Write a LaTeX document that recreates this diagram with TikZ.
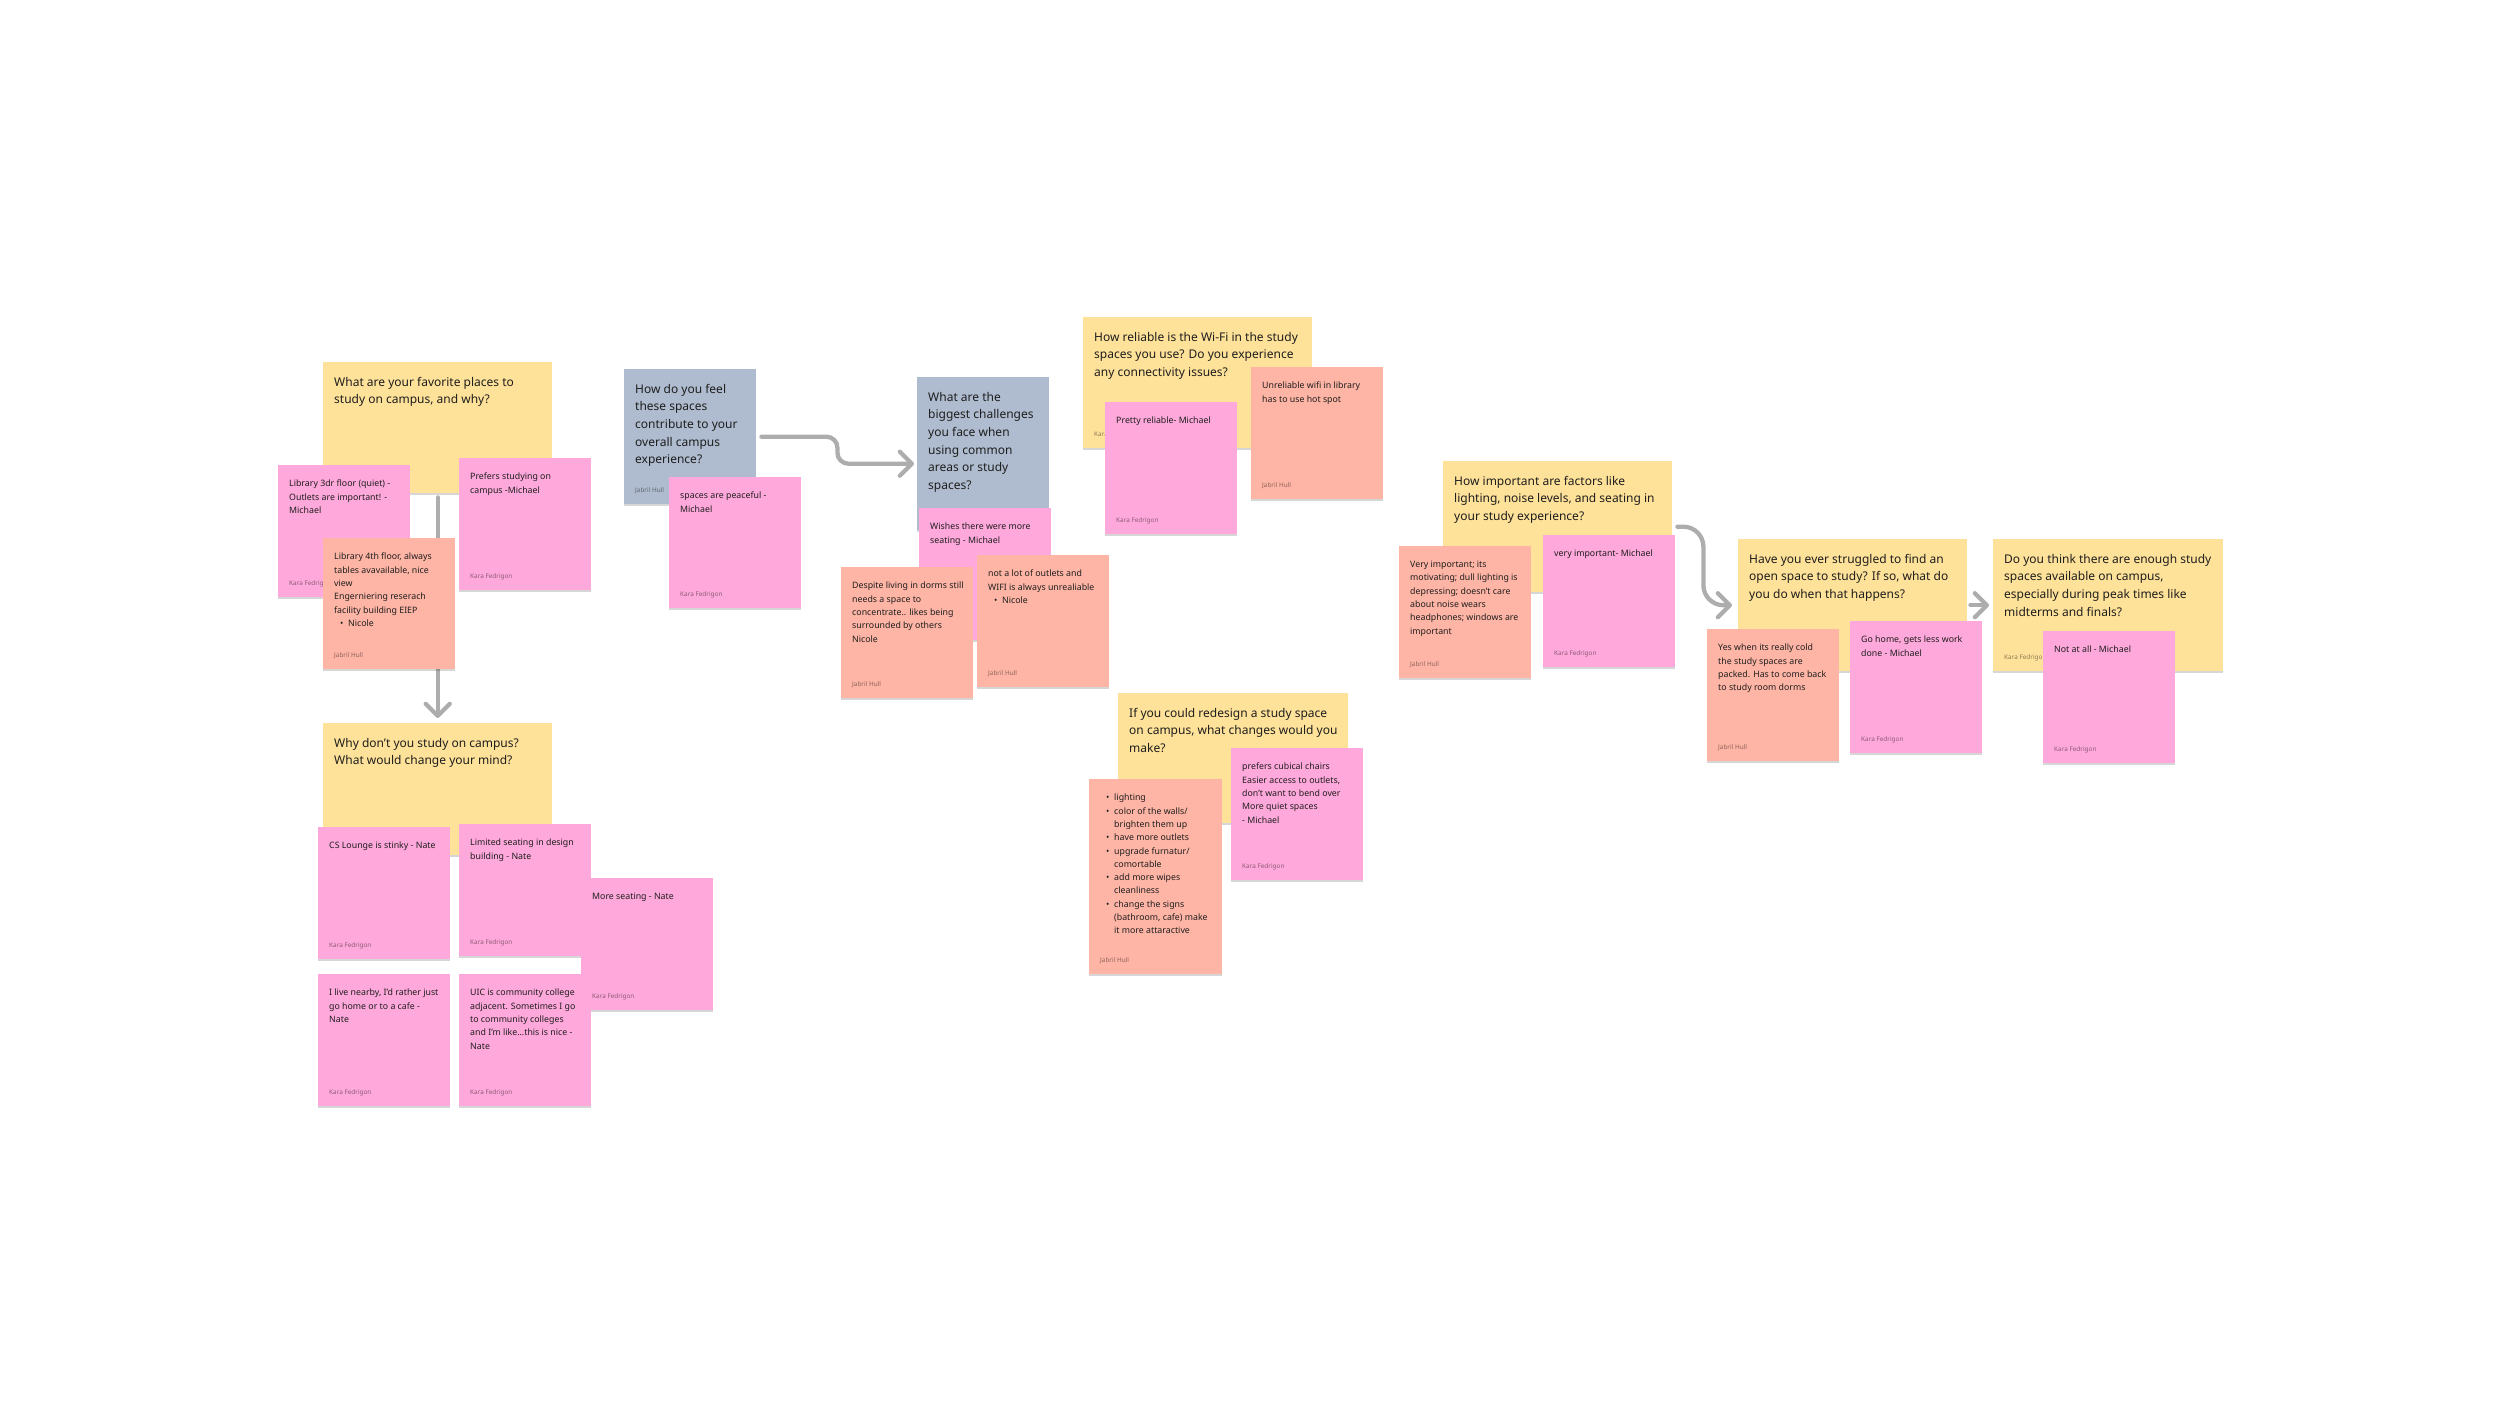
\documentclass[tikz,border=0pt]{standalone}
\usepackage{fontspec}
\setmainfont{Noto Sans}
\usepackage{tikz}
\usetikzlibrary{arrows.meta, shadows, backgrounds}
\definecolor{stickyYellow}{HTML}{FFE299}
\definecolor{stickyPink}{HTML}{FFA8DB}
\definecolor{stickySalmon}{HTML}{FFB5A5}
\definecolor{stickySlate}{HTML}{AFBCCF}
\definecolor{inkGray}{HTML}{1E1E1E}
\definecolor{linkGray}{HTML}{ADADAD}

\newcommand{\itm}{\hspace*{6pt}\makebox[8pt][l]{\textbullet}}
\newcommand{\cnt}{\hspace*{14pt}}
% one sticky: [text style] name, box style, top-left corner, text, author
\newcommand{\sticky}[6][atext]{%
  \node[#3] (#2) at (#4) {};
  \node[#1] at ([shift={(11,15)}]#2.north west) {#5};
  \node[who] at ([shift={(11,-12)}]#2.south west) {#6};
}

\begin{document}
\begin{tikzpicture}[x=1pt, y=-1pt,
  note/.style={rectangle, anchor=north west, inner sep=0pt,
               minimum width=132pt, minimum height=132pt,
               drop shadow={shadow xshift=0pt, shadow yshift=-2pt,
                            fill=black, opacity=.16}},
  ask/.style={note, fill=stickyYellow, minimum width=229pt, minimum height=131pt},
  slate/.style={note, fill=stickySlate},
  pink/.style={note, fill=stickyPink},
  salmon/.style={note, fill=stickySalmon},
  qtext/.style={anchor=north west, inner sep=0pt, align=left, text=inkGray,
                font=\fontsize{12}{17.6}\selectfont},
  atext/.style={qtext, font=\fontsize{8.8}{13.3}\selectfont},
  who/.style={anchor=base west, inner sep=0pt, text=black, text opacity=.45,
              font=\fontsize{6.4}{7}\selectfont},
  link/.style={line width=4.3pt, linkGray, line cap=round,
               -{Straight Barb[length=12pt, width=24pt, round]}},
]
  \useasboundingbox (0,0) rectangle (2500,1424);

  % favourite places
  \sticky[qtext]{fav}{ask}{323,362}{What are your favorite places to\\study on campus, and why?}{}
  \sticky{lib3}{pink}{278,465}{Library 3dr floor (quiet) -\\Outlets are important! -\\Michael}{Kara Fedrigon}
  \sticky{prefers}{pink}{459,458}{Prefers studying on\\campus -Michael}{Kara Fedrigon}
  \sticky{lib4}{salmon, minimum height=131pt}{323,538}{Library 4th floor, always\\tables avavailable, nice\\view\\Engerniering reserach\\facility building EIEP\\\itm Nicole}{Jabril Hull}

  % not on campus
  \sticky[qtext]{whynot}{ask, minimum height=132pt}{323,723}{Why don't you study on campus?\\What would change your mind?}{}
  \sticky{stinky}{pink}{318,827}{CS Lounge is stinky - Nate}{Kara Fedrigon}
  \sticky{design}{pink}{459,824}{Limited seating in design\\building - Nate}{Kara Fedrigon}
  \sticky{seating}{pink}{581,878}{More seating - Nate}{Kara Fedrigon}
  \sticky{nearby}{pink}{318,974}{I live nearby, I'd rather just\\go home or to a cafe -\\Nate}{Kara Fedrigon}
  \sticky{uic}{pink}{459,974}{UIC is community college\\adjacent. Sometimes I go\\to community colleges\\and I'm like...this is nice -\\Nate}{Kara Fedrigon}

  % campus experience
  \sticky[qtext]{feel}{slate, minimum height=135pt}{624,369}{How do you feel\\these spaces\\contribute to your\\overall campus\\experience?}{Jabril Hull}
  \sticky{peaceful}{pink, minimum height=131pt}{669,477}{spaces are peaceful -\\Michael}{Kara Fedrigon}

  % challenges
  \sticky[qtext]{hard}{slate, minimum height=153pt}{917,377}{What are the\\biggest challenges\\you face when\\using common\\areas or study\\spaces?}{}
  \sticky{wishes}{pink}{919,508}{Wishes there were more\\seating - Michael}{}
  \sticky{dorms}{salmon, minimum height=131pt}{841,567}{Despite living in dorms still\\needs a space to\\concentrate.. likes being\\surrounded by others\\Nicole}{Jabril Hull}
  \sticky{outlets}{salmon}{977,555}{not a lot of outlets and\\WIFI is always unrealiable\\\itm Nicole}{Jabril Hull}

  % wifi
  \sticky[qtext]{wifi}{ask}{1083,317}{How reliable is the Wi-Fi in the study\\spaces you use? Do you experience\\any connectivity issues?}{Kara Fedrigon}
  \sticky{reliable}{pink}{1105,402}{Pretty reliable- Michael}{Kara Fedrigon}
  \sticky{hotspot}{salmon}{1251,367}{Unreliable wifi in library\\has to use hot spot}{Jabril Hull}

  % redesign
  \sticky[qtext]{redesign}{ask, minimum width=230pt, minimum height=130pt}{1118,693}{If you could redesign a study space\\on campus, what changes would you\\make?}{}
  \sticky{changes}{salmon, minimum width=133pt, minimum height=195pt}{1089,779}{\itm lighting\\\itm color of the walls/\\\cnt brighten them up\\\itm have more outlets\\\itm upgrade furnatur/\\\cnt comortable\\\itm add more wipes\\\cnt cleanliness\\\itm change the signs\\\cnt (bathroom, cafe) make\\\cnt it more attaractive}{Jabril Hull}
  \sticky{cubical}{pink}{1231,748}{prefers cubical chairs\\Easier access to outlets,\\don't want to bend over\\More quiet spaces\\- Michael}{Kara Fedrigon}

  % factors
  \sticky[qtext]{factors}{ask}{1443,461}{How important are factors like\\lighting, noise levels, and seating in\\your study experience?}{}
  \sticky{lighting}{salmon}{1399,546}{Very important; its\\motivating; dull lighting is\\depressing; doesn't care\\about noise wears\\headphones; windows are\\important}{Jabril Hull}
  \sticky{important}{pink}{1543,535}{very important- Michael}{Kara Fedrigon}

  % open space
  \sticky[qtext]{struggle}{ask, minimum height=132pt}{1738,539}{Have you ever struggled to find an\\open space to study? If so, what do\\you do when that happens?}{}
  \sticky{cold}{salmon}{1707,629}{Yes when its really cold\\the study spaces are\\packed. Has to come back\\to study room dorms}{Jabril Hull}
  \sticky{gohome}{pink}{1850,621}{Go home, gets less work\\done - Michael}{Kara Fedrigon}

  % enough spaces
  \sticky[qtext]{enough}{ask, minimum width=230pt, minimum height=132pt}{1993,539}{Do you think there are enough study\\spaces available on campus,\\especially during peak times like\\midterms and finals?}{Kara Fedrigon}
  \sticky{notall}{pink}{2043,631}{Not at all - Michael}{Kara Fedrigon}

  \begin{scope}[on background layer]
    \draw[link, shorten <=4pt, shorten >=5pt] (fav.south) -- (whynot.north);
    \draw[link, rounded corners=11pt, shorten <=5pt, shorten >=3pt]
      (feel.east) -- ++(81,0) |- ([shift={(0,10)}]hard.west);
    \draw[link, rounded corners=20pt, shorten <=5pt, shorten >=6pt]
      (factors.east) -- ++(31,0) |- (struggle.west);
    \draw[link, shorten <=3pt, shorten >=4pt] (struggle.east) -- (enough.west);
  \end{scope}
\end{tikzpicture}
\end{document}
